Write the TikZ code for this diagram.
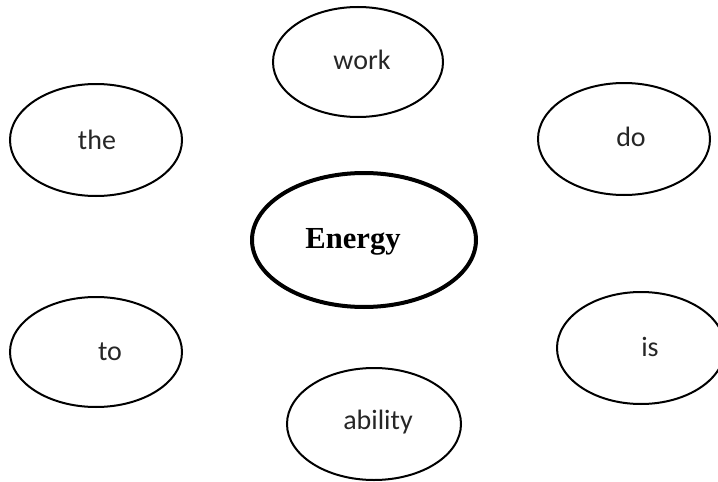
\documentclass[tikz,border=0pt]{standalone}
\usepackage{fontspec}
\setmainfont{Carlito}
\newfontfamily\serifbold{Liberation Serif}
\usetikzlibrary{shapes.geometric}
\tikzset{
  bubble/.style={draw, ellipse, line width=1pt, inner sep=0pt},
  word/.style={font=\fontsize{14}{16}\selectfont, text=black!85},
}
\begin{document}
\begin{tikzpicture}[x=0.5pt, y=-0.5pt]
    \useasboundingbox (0,0) rectangle (718,482);

    % Palavra central.
    \node[bubble, line width=2pt, minimum width=112pt, minimum height=67pt] (energyE) at (364,240) {};
    \node[font=\serifbold\bfseries\fontsize{15.3}{18}\selectfont] (energy) at (353,242) {Energy};

    % Elipses em volta.
    \node[bubble, minimum width=85pt, minimum height=55pt] (workE) at (358,62) {};
    \node[bubble, minimum width=86pt, minimum height=56pt] (theE) at (96,140) {};
    \node[bubble, minimum width=86pt, minimum height=56pt] (doE) at (624,139) {};
    \node[bubble, minimum width=86pt, minimum height=55pt] (toE) at (96,352) {};
    \node[bubble, minimum width=84pt, minimum height=56pt] (isE) at (641,348) {};
    \node[bubble, minimum width=87pt, minimum height=56pt] (abilityE) at (374,424) {};

    % Palavras soltas.
    \node[word] (work) at (362,60) {work};
    \node[word] (the) at (97,140) {the};
    \node[word] (do) at (631,137) {do};
    \node[word] (to) at (110,352) {to};
    \node[word] (is) at (650,347) {is};
    \node[word] (ability) at (378,422) {ability};
  \end{tikzpicture}
\end{document}
